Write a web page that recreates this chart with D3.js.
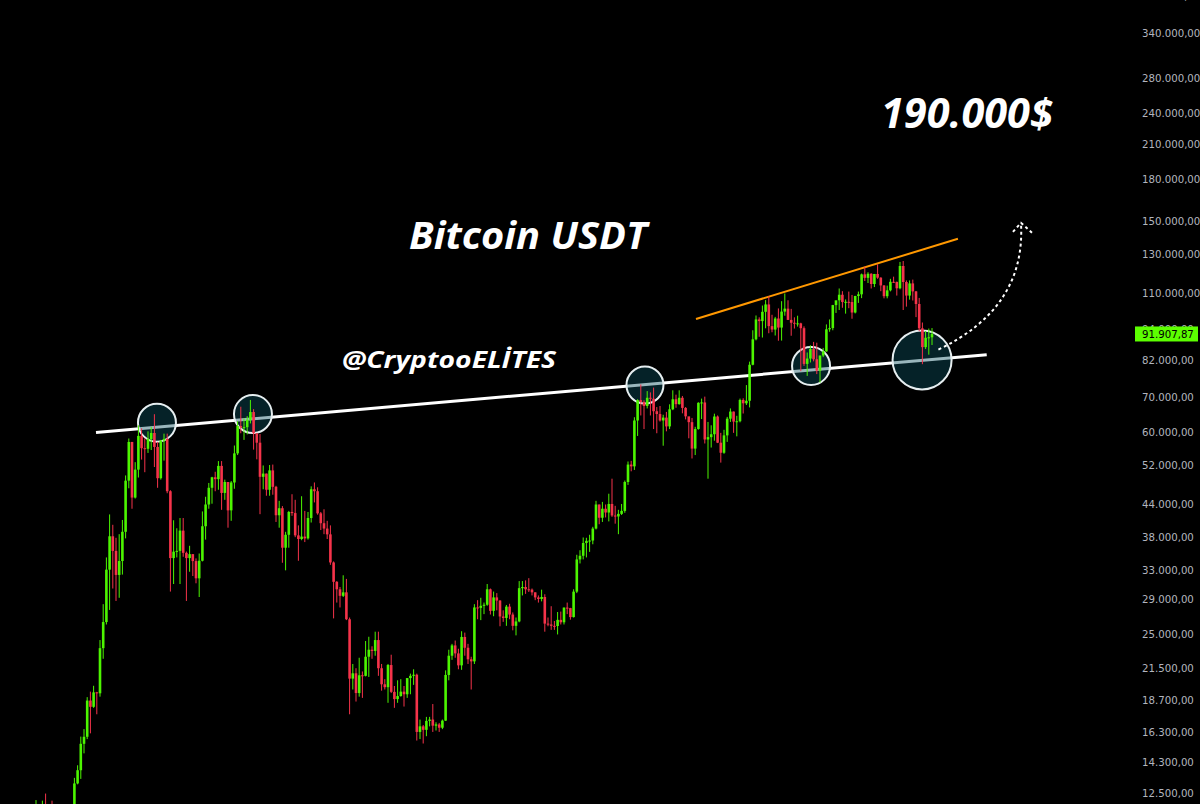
<!DOCTYPE html>
<html>
<head>
<meta charset="utf-8">
<script src="https://cdn.jsdelivr.net/npm/d3@7"></script>
<style>
  html, body { margin: 0; padding: 0; background: #000; }
  svg { display: block; }
</style>
</head>
<body>
<div id="chart"></div>
<script>
// Weekly BTC/USDT candles, first week starting 2020-07-27
const firstOpen = 9900;
const highs = [
12120,11850,12090,12470,11800,12090,10800,11180,10990,10950,11490,11740,13350,14100,15970,16500,18960,19420,19920,19400,
24300,28400,34800,41950,40100,37900,38500,40950,49700,58350,57500,52650,61800,61000,58400,60200,61400,64850,57500,58000,
59600,59600,46600,40900,39500,41300,41300,35700,36600,35300,34650,35400,42500,45300,48100,49400,50500,52900,52900,48800,
48300,48500,56600,62900,67000,63700,64300,69000,66300,59700,59500,51900,50100,52000,52100,47500,44500,43500,38900,42600,
45800,44700,40000,45400,42600,42400,47400,48200,47200,42400,42900,40800,40000,34200,31400,30600,32200,31700,26800,21900,
21500,22500,21200,24200,24650,23650,25200,25200,21900,20500,21900,22800,19900,20400,20500,19900,19700,21000,21400,21000,
17200,16800,17400,17400,18400,17000,16950,17200,21300,23300,23900,24250,23400,25250,25100,23900,22600,28400,28900,29200,
28600,31000,30400,30000,29800,28900,27650,28300,28450,27400,26800,31400,31400,31500,31800,30400,29900,29500,30250,29650,
26800,28150,26400,27450,27500,28000,28600,27950,30300,35200,35900,37950,37900,38400,39750,44500,43800,44300,43800,45900,
49000,43550,42800,43900,48600,52800,52950,64000,69200,73800,68900,71700,71300,72800,66900,67200,64700,65500,67700,71950,
70600,71950,70200,66900,63400,63800,61400,68300,69400,70000,62700,61800,65000,64500,59800,60600,64100,66500,65600,64400,
69400,69500,73600,81500,93400,99600,98800,104000,106500,108350,99900,99000,102700,106000,109600,106400,102500,98800,99500,96500,
95000,84800,87500,88800,88500,83600,86500,95800,97900,104300,105800,112000,110700,106800,110500,108900,108500,110500,119500,123200,
120200,119700,119300,124450,117600,113600,113400,116800,117900,115400,125700,126200,116000,116000,116400,110800,107500,96600,93100,94100,
94300
];
const lows = [
9880,11000,11130,11270,11120,9820,9880,10200,10140,10380,10530,11250,11400,12980,13290,14850,15800,16200,18100,17600,
19000,22400,26000,27700,30400,28800,29200,32300,37800,47000,43000,44950,49250,53250,50400,54800,55500,51550,47100,48800,
53000,46000,30000,31000,34800,31000,34900,28800,32700,32100,31100,29300,34200,37600,43000,43950,46400,46700,42800,44700,
39600,40800,46900,54300,59700,58000,59400,62300,55600,53300,42000,46800,45500,45500,45700,40600,39600,34000,32900,36300,
41700,38000,34300,37500,37200,37600,40500,44200,41900,39200,38500,37700,33700,26700,28600,28000,29300,26500,17600,19600,
18600,19000,18900,20750,20700,22400,22700,20800,19500,19600,18500,19300,18100,18500,19000,18200,18900,19200,20000,15700,
15800,15500,16000,16700,16300,16400,16300,16500,17100,20400,22300,22500,21400,21350,22700,21900,19600,21900,26600,26500,
27200,28200,27150,26950,27650,25800,26300,25850,26600,25350,24800,26250,29500,29700,29950,29500,28900,28600,28750,25200,
25800,25400,25400,24900,26000,26000,27200,26550,26800,29800,33900,34500,34800,35650,36850,39300,40200,40600,41400,40700,
41500,40300,38500,41850,42250,47700,50600,50900,59000,64500,60800,66500,64500,60800,59700,62800,56550,60200,60800,66000,
66700,67600,65100,63400,58400,53500,54300,60650,63500,57100,49000,56100,57800,57200,52550,54600,57500,62700,59800,58900,
62600,65050,67500,66800,80200,89400,90800,90500,94200,92200,92600,91300,89250,89300,99500,97800,91200,94100,94900,78200,
80000,76600,81200,81600,77200,74400,83100,85100,92800,93400,100700,102000,103000,100400,102800,98200,100500,105200,107400,115700,
114700,112000,112700,116800,110700,107300,107300,110600,114700,108600,111600,102000,103500,106700,106300,98900,93000,80600,86100,84000,
87600
];
const closes = [
11060,11680,11850,11660,11710,10250,10330,10920,10780,10670,11380,11500,13030,13800,15480,15960,18680,18180,19360,19280,
23460,26280,33000,38150,35800,32250,34260,38900,48580,57480,45140,50970,59020,55950,55800,58200,59770,56250,49100,57800,
58240,46400,34700,35680,35800,39100,35500,34700,35300,34250,31780,34300,39850,43800,47100,49300,48900,51800,46060,48300,
42700,48200,54700,61600,61200,61300,63300,65470,59700,57300,49400,50100,46700,50800,47300,41800,43100,36300,38400,42400,
42200,38300,37700,38100,37800,41300,46800,46400,42150,40380,39450,38470,34050,31300,30300,29450,29900,26600,20550,21030,
19300,20850,20800,22600,23300,23180,24300,21500,20050,19800,21800,19400,18800,19050,19420,19200,20600,20800,20900,16300,
16700,16450,17100,17200,16750,16840,16600,17120,20880,22700,23740,22930,21770,24630,23500,22350,22150,28000,27950,28200,
28330,30300,27590,29250,28850,26920,26750,28100,27150,25850,26350,30450,30600,30300,30250,29900,29250,29050,29300,26100,
26000,25850,25830,26530,26250,27980,27920,26850,29990,34500,35050,37050,37400,37450,39450,43800,41350,43000,42300,43900,
41750,41580,42050,42600,48300,52100,51700,63100,68950,68400,67200,69650,69360,65700,64900,63100,63900,61500,66250,69200,
67750,69650,66650,64250,62650,55850,60800,68150,68250,58100,58700,59450,64200,57300,54850,59150,63600,65600,62800,62900,
69000,68000,68750,80400,89800,97900,97200,101200,104500,95100,93700,98300,94500,101300,102600,97700,96500,96100,96250,94250,
80700,82600,86100,82350,78400,83700,85200,93800,94300,104200,106400,109000,105600,105700,105600,100900,108400,109200,119100,117300,
119400,114200,119300,117400,113500,108300,111100,115300,115250,112100,123500,115200,108600,114500,110600,104700,94200,86800,90400,90600,
91908
];
const tickValues = [400000,340000,280000,240000,210000,180000,150000,130000,110000,94000,82000,70000,60000,52000,44000,38000,33000,29000,25000,21500,18700,16300,14300,12500];
const lastPrice = 91907.87;
const titleText = "Bitcoin USDT";
const handleText = "@CryptooELİTES";
const targetText = "190.000$";

const W = 1200, H = 804;
const candles = closes.map((c, i) => ({
  i, o: i === 0 ? firstOpen : closes[i - 1], h: highs[i], l: lows[i], c
}));

const x = d3.scaleLinear().domain([0, candles.length - 1]).range([36, 932]);
const y = d3.scaleLog().domain([12500, 340000]).range([793, 33]);

const svg = d3.select("#chart").append("svg")
  .attr("width", W).attr("height", H)
  .style("background", "#000");

const green = "#4cf500", red = "#f5334a";

// trend lines (in price/time space)
const white = [{i: 18.75, p: 59900}, {i: 297.1, p: 84000}];
const orange = [{i: 206.25, p: 98100}, {i: 288.1, p: 139000}];
const lineGen = d3.line().x(d => x(d.i)).y(d => y(d.p));

svg.append("path").attr("d", lineGen(white))
  .attr("stroke", "#ffffff").attr("stroke-width", 3).attr("fill", "none");
svg.append("path").attr("d", lineGen(orange))
  .attr("stroke", "#ff9800").attr("stroke-width", 2).attr("fill", "none");

// highlight circles
const circles = [
  {i: 37.8, p: 62500, r: 19},
  {i: 67.8, p: 64900, r: 19},
  {i: 190.3, p: 73600, r: 18.5},
  {i: 242.2, p: 80000, r: 19},
  {i: 276.9, p: 82100, r: 29.5}
];
svg.append("g").selectAll("circle").data(circles).join("circle")
  .attr("cx", d => x(d.i)).attr("cy", d => y(d.p)).attr("r", d => d.r)
  .attr("fill", "rgba(12,82,96,0.42)")
  .attr("stroke", "#e6eef0").attr("stroke-width", 2);

// candles
const g = svg.append("g");
g.selectAll("line.wick").data(candles).join("line")
  .attr("class", "wick")
  .attr("x1", d => x(d.i)).attr("x2", d => x(d.i))
  .attr("y1", d => y(d.h)).attr("y2", d => y(d.l))
  .attr("stroke", d => d.c >= d.o ? green : red).attr("stroke-width", 1);
g.selectAll("rect.body").data(candles).join("rect")
  .attr("class", "body")
  .attr("x", d => x(d.i) - 1.3).attr("width", 2.6)
  .attr("y", d => y(Math.max(d.o, d.c)))
  .attr("height", d => Math.max(1, Math.abs(y(d.o) - y(d.c))))
  .attr("fill", d => d.c >= d.o ? green : red);

// dashed projection arrow
const arrowStart = {i: 282, p: 85900};
const arrowCtrl = {i: 309.4, p: 103000};
const arrowEnd = {i: 307.8, p: 149000};
const p0 = [x(arrowStart.i), y(arrowStart.p)], p1 = [x(arrowCtrl.i), y(arrowCtrl.p)], p2 = [x(arrowEnd.i), y(arrowEnd.p)];
const path = d3.path();
path.moveTo(p0[0], p0[1]);
path.quadraticCurveTo(p1[0], p1[1], p2[0], p2[1]);
svg.append("path").attr("d", path.toString())
  .attr("stroke", "#ffffff").attr("stroke-width", 2).attr("fill", "none")
  .attr("stroke-dasharray", "3,3");
const head = d3.path();
head.moveTo(p2[0] - 8, p2[1] + 9);
head.lineTo(p2[0], p2[1]);
head.lineTo(p2[0] + 11, p2[1] + 10);
svg.append("path").attr("d", head.toString())
  .attr("stroke", "#ffffff").attr("stroke-width", 2).attr("fill", "none")
  .attr("stroke-dasharray", "3,3");

// right price axis
const locale = d3.formatLocale({decimal: ",", thousands: ".", grouping: [3], currency: ["", ""]});
const fmt = locale.format(",.2f");
const axis = d3.axisRight(y).tickValues(tickValues).tickFormat(fmt).tickSize(0).tickPadding(0);
const ag = svg.append("g").attr("transform", "translate(1142,0)").call(axis);
ag.select(".domain").remove();
ag.selectAll("text")
  .attr("fill", "#b2b5be")
  .style("font-family", "'DejaVu Sans', sans-serif")
  .style("font-size", "10.2px")
  .attr("dy", "0.35em");

// last price label
svg.append("rect").attr("x", 1135).attr("y", y(lastPrice) - 7.5).attr("width", 63).attr("height", 15)
  .attr("fill", "#5cff00");
svg.append("text").attr("x", 1142).attr("y", y(lastPrice)).attr("dy", "0.35em")
  .attr("fill", "#000")
  .style("font-family", "'DejaVu Sans', sans-serif").style("font-size", "10.2px")
  .text(fmt(lastPrice));

// annotation texts
const ann = svg.append("g").attr("fill", "#ffffff")
  .style("font-family", "'Open Sans', sans-serif").style("font-weight", "700").style("font-style", "italic");
ann.append("text").attr("x", 409).attr("y", 249).style("font-size", "38px")
  .attr("textLength", 238).attr("lengthAdjust", "spacingAndGlyphs").text(titleText);
ann.append("text").attr("x", 342).attr("y", 368).style("font-size", "23px")
  .attr("textLength", 214).attr("lengthAdjust", "spacingAndGlyphs").text(handleText);
ann.append("text").attr("x", 881).attr("y", 128).style("font-size", "41.5px").text(targetText);
</script>
</body>
</html>
